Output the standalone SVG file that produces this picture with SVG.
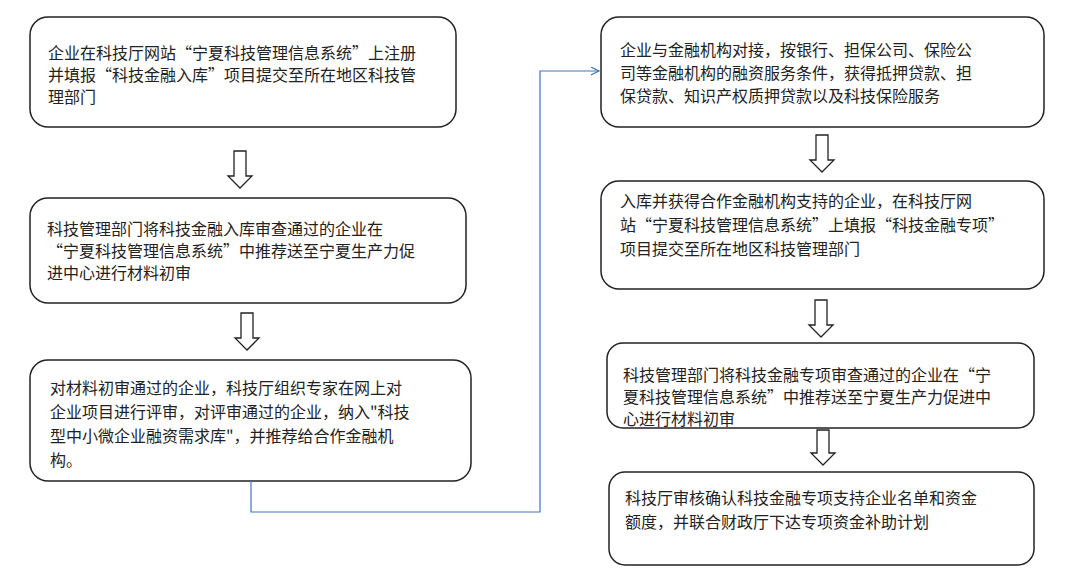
<svg xmlns="http://www.w3.org/2000/svg" width="1080" height="588" viewBox="0 0 1080 588">
<style>
.box{fill:#fff;stroke:#222;stroke-width:1.5}
.t{font-family:"Noto Sans CJK SC",sans-serif;font-size:16px;fill:#222}
.arr{fill:#fff;stroke:#222;stroke-width:1.3}
.con{fill:none;stroke:#4472C4;stroke-width:1.2}
</style>
<defs><marker id="m" markerWidth="10" markerHeight="10" refX="8" refY="4" orient="auto" markerUnits="userSpaceOnUse"><path d="M0,0 L8,4 L0,8" fill="none" stroke="#4472C4" stroke-width="1.2"/></marker></defs>
<rect width="1080" height="588" fill="#fff"/>
<g id="n1"><rect class="box" x="30" y="17" width="426" height="110" rx="18"/>
<text class="t" x="48"><tspan y="59">企业在科技厅网站“宁夏科技管理信息系统”上注册</tspan><tspan x="48" y="81">并填报“科技金融入库”项目提交至所在地区科技管</tspan><tspan x="48" y="103">理部门</tspan></text></g>
<g id="n2"><rect class="box" x="30" y="198" width="436" height="105" rx="18"/>
<text class="t" x="47"><tspan y="235">科技管理部门将科技金融入库审查通过的企业在</tspan><tspan x="47" y="257">“宁夏科技管理信息系统”中推荐送至宁夏生产力促</tspan><tspan x="47" y="279">进中心进行材料初审</tspan></text></g>
<g id="n3"><rect class="box" x="30" y="360" width="441" height="121" rx="18"/>
<text class="t" x="50"><tspan y="394">对材料初审通过的企业，科技厅组织专家在网上对</tspan><tspan x="50" y="418">企业项目进行评审，对评审通过的企业，纳入"科技</tspan><tspan x="50" y="442">型中小微企业融资需求库"，并推荐给合作金融机</tspan><tspan x="50" y="466">构。</tspan></text></g>
<g id="n4"><rect class="box" x="601" y="17" width="443" height="110" rx="18"/>
<text class="t" x="620"><tspan y="56">企业与金融机构对接，按银行、担保公司、保险公</tspan><tspan x="620" y="79">司等金融机构的融资服务条件，获得抵押贷款、担</tspan><tspan x="620" y="102">保贷款、知识产权质押贷款以及科技保险服务</tspan></text></g>
<g id="n5"><rect class="box" x="601" y="181" width="443" height="108" rx="18"/>
<text class="t" x="620"><tspan y="207">入库并获得合作金融机构支持的企业，在科技厅网</tspan><tspan x="620" y="231">站“宁夏科技管理信息系统”上填报“科技金融专项”</tspan><tspan x="620" y="255">项目提交至所在地区科技管理部门</tspan></text></g>
<g id="n6"><rect class="box" x="607" y="343" width="427" height="85" rx="16"/>
<text class="t" x="623"><tspan y="381">科技管理部门将科技金融专项审查通过的企业在“宁</tspan><tspan x="623" y="403">夏科技管理信息系统”中推荐送至宁夏生产力促进中</tspan><tspan x="623" y="425">心进行材料初审</tspan></text></g>
<g id="n7"><rect class="box" x="609" y="472" width="425" height="93" rx="16"/>
<text class="t" x="625"><tspan y="504">科技厅审核确认科技金融专项支持企业名单和资金</tspan><tspan x="625" y="528">额度，并联合财政厅下达专项资金补助计划</tspan></text></g>
<g id="connectors">
<path class="arr" d="M234,151 H246 V176 H252 L240,188 L228,176 H234 Z"/>
<path class="arr" d="M241,313 H253 V338 H259 L247,350 L235,338 H241 Z"/>
<path class="arr" d="M816,135 H828 V160 H834 L822,172 L810,160 H816 Z"/>
<path class="arr" d="M815,300 H827 V325 H833 L821,337 L809,325 H815 Z"/>
<path class="arr" d="M817,430 H829 V453 H835 L823,465 L811,453 H817 Z"/>
<path class="con" d="M251,481 V512 H540 V71 H599" marker-end="url(#m)"/>
</g>
</svg>
